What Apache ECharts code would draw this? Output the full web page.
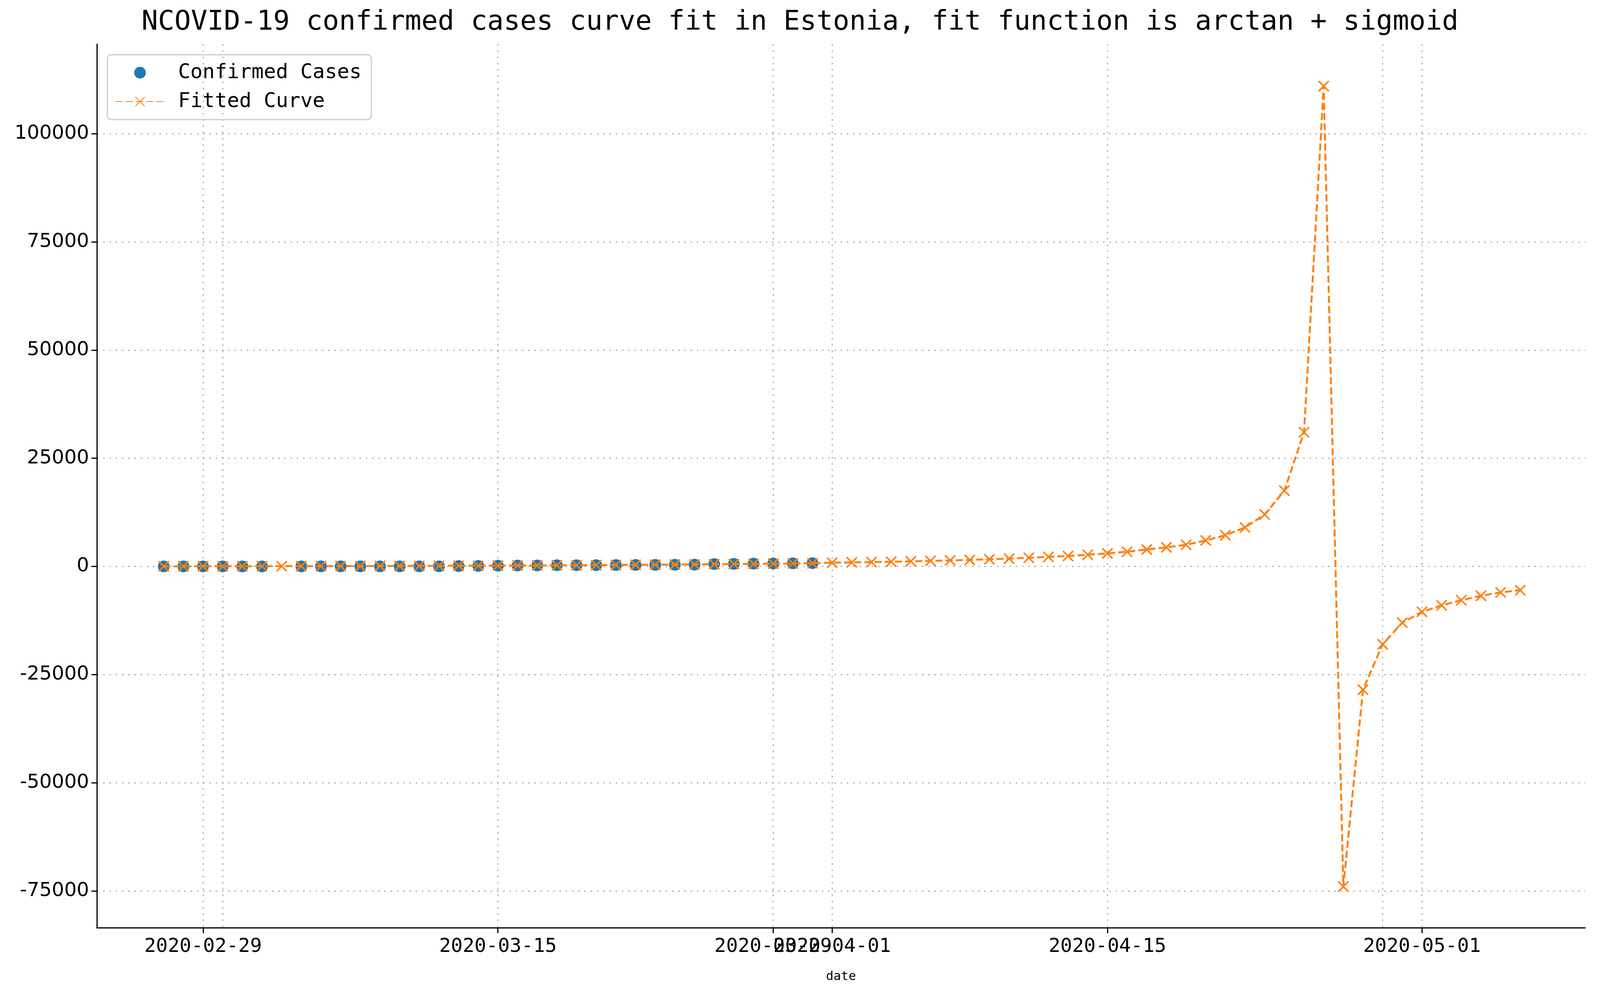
<!DOCTYPE html>
<html>
<head>
<meta charset="utf-8">
<script src="https://cdn.jsdelivr.net/npm/echarts@6/dist/echarts.min.js"></script>
<style>html,body{margin:0;padding:0;background:#fff;overflow:hidden}#main{width:100vw;height:100vh}</style>
</head>
<body>
<div id="main"></div>
<script>
// days counted from 2020-03-01
var confirmedDays = [-3, -2, -1, 0, 1, 2, 4, 5, 6, 7, 8, 9, 10, 11, 12, 13, 14, 15, 16, 17, 18, 19, 20, 21, 22, 23, 24, 25, 26, 27, 28, 29, 30];
var confirmedValues = [1, 1, 1, 1, 1, 2, 3, 10, 10, 10, 10, 13, 16, 27, 79, 115, 171, 205, 225, 258, 267, 283, 306, 326, 352, 369, 404, 538, 575, 645, 679, 715, 745];
var fittedStart = -3;
var fittedValues = [20, 25, 30, 35, 40, 50, 55, 60, 70, 80, 90, 100, 110, 125, 140, 155, 170, 190, 210, 230, 250, 275, 300, 330, 360, 390, 425, 460, 500, 540, 585, 630, 680, 730,
    860, 930, 1000, 1080, 1170, 1270, 1380, 1500, 1650, 1800, 2000, 2200, 2400, 2700, 3000, 3400, 3900, 4400, 5000, 6000, 7200, 9000,
    12000, 17500, 31000, 111000, -74000, -28500, -18000, -13000, -10500, -9000, -7800, -6800, -6000, -5500];
var tickDays = [-1, 0, 14, 28, 31, 45, 59, 61];
var tickLabels = ['2020-02-29', '2020-03-01', '2020-03-15', '2020-03-29', '2020-04-01', '2020-04-15', '2020-04-29', '2020-05-01'];
var yTicks = [-75000, -50000, -25000, 0, 25000, 50000, 75000, 100000];

var chart = echarts.init(document.getElementById('main'));
var font = 'DejaVu Sans Mono';
var confirmed = confirmedDays.map(function (d, i) { return [d, confirmedValues[i]]; });
var fitted = fittedValues.map(function (v, i) { return [fittedStart + i, v]; });
var xMark = 'path://M0,0L10,10M10,0L0,10';

var option = {
    animation: false,
    backgroundColor: '#fff',
    title: {
        text: 'NCOVID-19 confirmed cases curve fit in Estonia, fit function is arctan + sigmoid',
        left: 'center', top: 18,
        textStyle: { fontFamily: font, fontSize: 70, fontWeight: 'normal', color: '#000' }
    },
    legend: {
        orient: 'vertical', left: 275, top: 140,
        itemWidth: 125, itemHeight: 30, itemGap: 22,
        padding: [20, 25, 20, 20],
        borderColor: '#ccc', borderWidth: 3, borderRadius: 10,
        textStyle: { fontFamily: font, fontSize: 52, color: '#000', padding: [0, 0, 0, 30] },
        data: ['Confirmed Cases', 'Fitted Curve']
    },
    grid: { left: 248, right: 38, top: 113, bottom: 162 },
    xAxis: {
        type: 'value', min: -6.4, max: 69.3,
        name: 'date', nameLocation: 'middle', nameGap: 110,
        nameTextStyle: { fontFamily: font, fontSize: 32, color: '#000' },
        axisLine: { onZero: false, lineStyle: { color: '#000', width: 3 } },
        axisTick: { length: 14, lineStyle: { color: '#000', width: 3 }, customValues: tickDays },
        axisLabel: {
            customValues: tickDays, margin: 24, hideOverlap: false,
            showMinLabel: true, showMaxLabel: true,
            fontFamily: font, fontSize: 50, color: '#000',
            formatter: function (v) { var i = tickDays.indexOf(v); return i >= 0 ? tickLabels[i] : ''; }
        },
        splitLine: { show: true, lineStyle: { color: '#b0b0b0', width: 3, type: [4, 12] } }
    },
    yAxis: {
        type: 'value', min: -83500, max: 120700,
        axisLine: { show: true, onZero: false, lineStyle: { color: '#000', width: 3 } },
        axisTick: { show: true, length: 14, lineStyle: { color: '#000', width: 3 }, customValues: yTicks },
        axisLabel: {
            customValues: yTicks, margin: 20, fontFamily: 'DejaVu Sans', fontSize: 50, color: '#000',
            formatter: function (v) { return String(v); }
        },
        splitLine: { show: true, lineStyle: { color: '#b0b0b0', width: 3, type: [4, 12] } }
    },
    series: [
        {
            name: 'Confirmed Cases', type: 'scatter', data: confirmed,
            symbol: 'circle', symbolSize: 30, z: 2,
            itemStyle: { color: '#1f77b4', opacity: 1 }
        },
        {
            name: 'Fitted Curve', type: 'line', data: fitted,
            symbol: xMark, symbolSize: 26, showAllSymbol: true, z: 3,
            lineStyle: { color: '#ff7f0e', width: 5, type: [18, 8] },
            itemStyle: { color: 'none', borderColor: '#ff7f0e', borderWidth: 4 }
        }
    ]
};
chart.setOption(option);
</script>
</body>
</html>
